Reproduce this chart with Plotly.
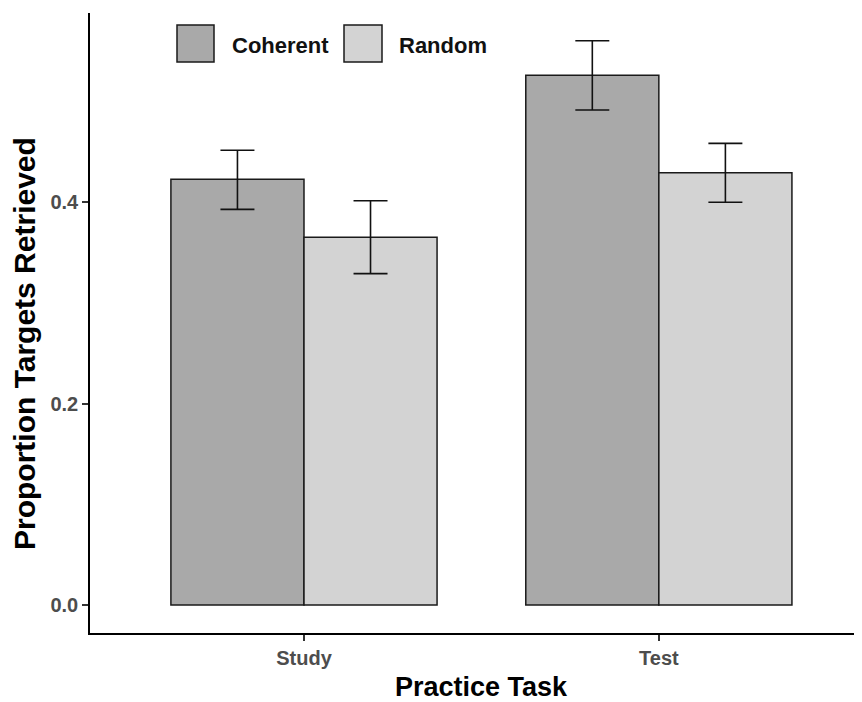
import plotly.graph_objects as go

# ---- data ----
tasks = ["Study", "Test"]
series_names = ["Coherent", "Random"]
coherent_mean = [0.4225, 0.5257]
coherent_low = [0.3927, 0.4913]
coherent_high = [0.4513, 0.5601]
random_mean = [0.3649, 0.4291]
random_low = [0.3289, 0.3997]
random_high = [0.4013, 0.4582]
y_tick_vals = [0.0, 0.2, 0.4]
y_tick_text = ["0.0", "0.2", "0.4"]
series_colors = ["#A9A9A9", "#D3D3D3"]

W, H = 862, 702
OFF = 8  # page body margin shifts the figure by 8 px
ML, MR, MT, MB = 90 - OFF, 0, 13 - OFF, 702 - (633 - OFF)
PW, PH = W - ML - MR, H - MT - MB


def px_x(p):
    return (p - OFF - ML) / PW


def px_y(p):
    return (H - MB - (p - OFF)) / PH


FONT = "Arial, Liberation Sans, sans-serif"

fig = go.Figure()
data = [
    (coherent_mean, coherent_low, coherent_high),
    (random_mean, random_low, random_high),
]
for name, color, (m, lo, hi) in zip(series_names, series_colors, data):
    fig.add_trace(go.Bar(
        x=tasks, y=m, name=name,
        marker=dict(color=color, line=dict(color="#1a1a1a", width=1.5)),
        error_y=dict(type="data", symmetric=False,
                     array=[h - v for h, v in zip(hi, m)],
                     arrayminus=[v - l for v, l in zip(m, lo)],
                     color="#111111", thickness=1.6, width=17),
        showlegend=False,
    ))

# manual legend (large keys like the reference)
leg_boxes = [(177, 214), (344, 382)]
leg_text_x = [230, 397]
for (x0, x1), tx, name, color in zip(leg_boxes, leg_text_x, series_names, series_colors):
    fig.add_shape(type="rect", xref="paper", yref="paper",
                  x0=px_x(x0), x1=px_x(x1), y0=px_y(62), y1=px_y(25),
                  fillcolor=color, line=dict(color="#1a1a1a", width=1.5))
    fig.add_annotation(xref="paper", yref="paper", x=px_x(tx), y=px_y(45),
                       text="<b>%s</b>" % name, showarrow=False,
                       xanchor="left", yanchor="middle",
                       font=dict(family=FONT, size=22, color="#111111"))

# axis titles
fig.add_annotation(xref="paper", yref="paper", x=px_x(481), y=px_y(687),
                   text="<b>Practice Task</b>", showarrow=False,
                   xanchor="center", yanchor="middle",
                   font=dict(family=FONT, size=27, color="black"))
fig.add_annotation(xref="paper", yref="paper", x=px_x(24), y=px_y(344),
                   text="<b>Proportion Targets Retrieved</b>", showarrow=False,
                   textangle=-90, xanchor="center", yanchor="middle",
                   font=dict(family=FONT, size=30, color="black"))

fig.update_layout(
    width=W, height=H,
    margin=dict(l=ML, r=MR, t=MT, b=MB),
    plot_bgcolor="white", paper_bgcolor="white",
    barmode="group", bargap=0.25, bargroupgap=0,
    showlegend=False,
    font=dict(family=FONT),
)
fig.update_xaxes(
    type="category", range=[-0.603, 1.595],
    showline=True, linecolor="black", linewidth=1.5,
    ticks="outside", ticklen=6, tickcolor="#333333", tickwidth=1.5,
    tickfont=dict(family=FONT, size=20, color="#4D4D4D", weight="bold"),
    showgrid=False, zeroline=False,
)
fig.update_yaxes(
    range=[-0.0278, 0.5876],
    tickvals=y_tick_vals, ticktext=y_tick_text,
    showline=True, linecolor="black", linewidth=1.5,
    ticks="outside", ticklen=6, tickcolor="#333333", tickwidth=1.5,
    tickfont=dict(family=FONT, size=20, color="#4D4D4D", weight="bold"),
    showgrid=False, zeroline=False,
)

fig.write_html("out.html")
